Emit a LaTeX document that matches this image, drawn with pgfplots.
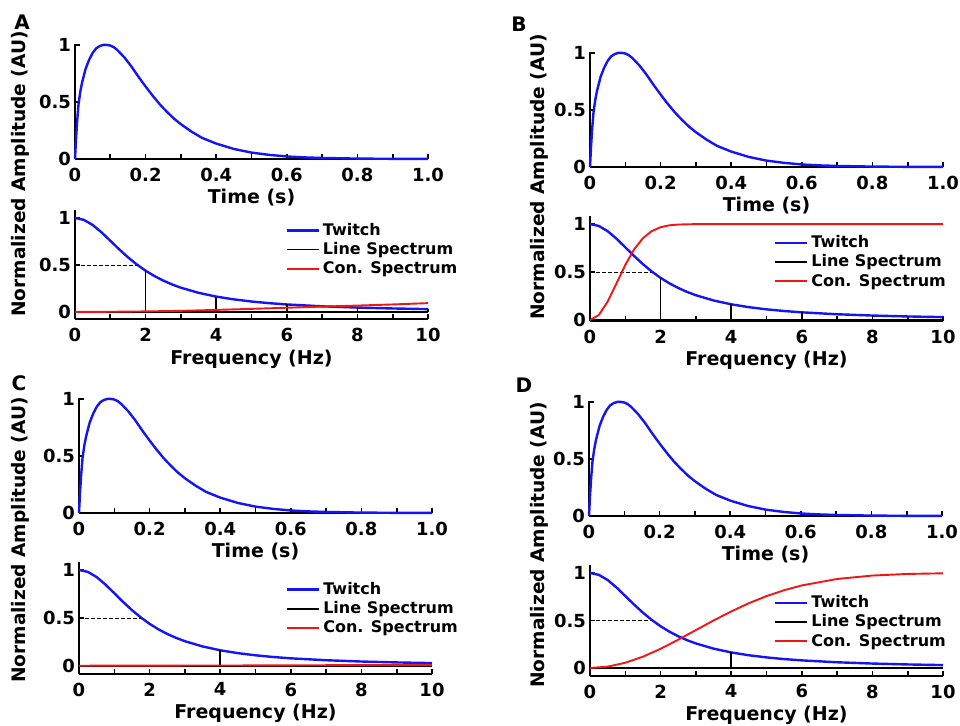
\documentclass[border=0pt]{standalone}
\usepackage{fontspec}
\setmainfont{DejaVu Sans}
\usepackage{pgfplots}
\usepackage{pgfplotstable}
\pgfplotsset{compat=1.18}

\definecolor{twblue}{RGB}{20,20,245}
\definecolor{conred}{RGB}{245,20,20}

% twitch in time (normalized)
\pgfplotstableread{
t y
0 0
0.003 0.18
0.006 0.33
0.01 0.48
0.015 0.59
0.02 0.67
0.03 0.79
0.04 0.87
0.05 0.93
0.06 0.97
0.07 0.99
0.08 1.0
0.09 1.0
0.10 0.995
0.11 0.98
0.12 0.955
0.14 0.89
0.16 0.81
0.18 0.72
0.20 0.635
0.22 0.555
0.24 0.48
0.26 0.415
0.28 0.355
0.30 0.305
0.33 0.24
0.36 0.185
0.40 0.135
0.45 0.088
0.50 0.056
0.55 0.036
0.60 0.022
0.65 0.014
0.70 0.009
0.80 0.0035
0.90 0.0013
1.00 0.0005
}\twitchtime

% twitch amplitude spectrum
\pgfplotstableread{
f y
0 1
0.25 0.9804
0.5 0.9261
0.75 0.8478
1 0.7580
1.25 0.6672
1.5 0.5820
1.75 0.5057
2 0.4392
2.25 0.3823
2.5 0.3339
2.75 0.2929
3 0.2582
3.5 0.2037
4 0.1637
4.5 0.1340
5 0.1114
5.5 0.0938
6 0.0800
7 0.0601
8 0.0467
9 0.0372
10 0.0304
}\twitchspec

% continuous spectra
\pgfplotstableread{
f y
0 0
1 0.002
2 0.006
3 0.012
4 0.022
5 0.033
6 0.045
7 0.057
8 0.068
9 0.080
10 0.094
}\conA

\pgfplotstableread{
f y
0 0
0.25 0.052
0.5 0.192
0.75 0.381
1 0.574
1.25 0.737
1.5 0.853
1.75 0.927
2 0.967
2.25 0.987
2.5 0.995
3 0.9995
4 1
10 1
}\conB

\pgfplotstableread{
f y
0 0.003
5 0.006
10 0.012
}\conC

\pgfplotstableread{
f y
0 0
0.5 0.014
1 0.055
1.5 0.119
2 0.202
2.5 0.298
3 0.399
3.5 0.500
4 0.595
4.5 0.682
5 0.756
5.5 0.819
6 0.869
7 0.937
8 0.973
9 0.990
10 0.9965
}\conD

\pgfplotsset{
  panel/.style={
    scale only axis, width=176.5pt,
    axis x line=bottom, axis y line=left,
    axis line style={-, line width=1pt},
    tick align=inside,
    major tick length=2.5pt, minor tick length=2.5pt,
    every tick/.style={black, line width=0.8pt},
    ticklabel style={font=\fontsize{9}{10}\selectfont\bfseries},
    xticklabel style={yshift=-1pt},
    yticklabel style={xshift=1.5pt},
    xlabel style={font=\fontsize{9.5}{11}\selectfont\bfseries},
    ytick={0,0.5,1}, yticklabels={0,0.5,1},
    clip=false,
  },
  timeax/.style={
    panel, height=57.6pt,
    xmin=0, xmax=1, ymin=0, ymax=1.01,
    xtick={0,0.2,0.4,0.6,0.8,1.0},
    xticklabels={0,0.2,0.4,0.6,0.8,1.0},
    minor xtick={0.1,0.3,0.5,0.7,0.9},
    xlabel={Time (s)},
    xlabel style={yshift=3pt},
  },
  freqax/.style={
    panel, xmin=0, xmax=10, ymax=1.08,
    xtick={0,2,4,6,8,10},
    xticklabels={0,2,4,6,8,10},
    minor xtick={1,3,5,7,9},
    xlabel={Frequency (Hz)},
    xlabel style={yshift=3pt},
    legend style={draw=none, fill=none, inner sep=0pt, row sep=0pt,
      font=\fontsize{8}{9}\selectfont\bfseries,
      nodes={inner xsep=1.5pt, inner ysep=0.6pt, text height=6.6pt, text depth=1.8pt}},
    legend cell align=left,
    legend image code/.code={\draw[##1] (0pt,0pt) -- (16pt,0pt);},
  },
  tw/.style={twblue, line width=1.2pt},
  ls/.style={black, line width=0.85pt},
  cs/.style={conred, line width=0.95pt},
  half/.style={black, line width=0.4pt, dash pattern=on 2pt off 1pt},
}

\begin{document}
\begin{tikzpicture}
\path[use as bounding box] (0,0) rectangle (480pt,363pt);

% ---------- A ----------
\begin{axis}[timeax, at={(37.5pt,283.5pt)}, anchor=south west]
\addplot[tw] table {\twitchtime};
\end{axis}
\begin{axis}[freqax, height=54.5pt, ymin=-0.08, at={(37.5pt,203.25pt)}, anchor=south west,
  legend style={at={(axis cs:5.95,0.975)}, anchor=north west}]
\addplot[tw] table {\twitchspec};
\addlegendentry{Twitch}
\addplot[ls] coordinates {(0,0) (10,0)};
\addlegendentry{Line Spectrum}
\addplot[ls, ycomb, forget plot] coordinates {(2,0.4392) (4,0.1637) (6,0.0800) (8,0.0467) (10,0.0304)};
\addplot[half, forget plot] coordinates {(0,0.5) (1.77,0.5)};
\addplot[cs] table {\conA};
\addlegendentry{Con. Spectrum}
\end{axis}

% ---------- B ----------
\begin{axis}[timeax, at={(295pt,279.5pt)}, anchor=south west]
\addplot[tw] table {\twitchtime};
\end{axis}
\begin{axis}[freqax, height=52.3pt, ymin=-0.01, at={(295pt,202.5pt)}, anchor=south west,
  legend style={at={(axis cs:5.2,0.907)}, anchor=north west}]
\addplot[tw] table {\twitchspec};
\addlegendentry{Twitch}
\addplot[ls] coordinates {(0,0) (10,0)};
\addlegendentry{Line Spectrum}
\addplot[ls, ycomb, forget plot] coordinates {(2,0.4392) (4,0.1637) (6,0.0800) (8,0.0467) (10,0.0304)};
\addplot[half, forget plot] coordinates {(0,0.5) (1.77,0.5)};
\addplot[cs] table {\conB};
\addlegendentry{Con. Spectrum}
\end{axis}

% ---------- C ----------
\begin{axis}[timeax, at={(39.5pt,106.5pt)}, anchor=south west]
\addplot[tw] table {\twitchtime};
\end{axis}
\begin{axis}[freqax, height=55.7pt, ymin=-0.08, at={(39.5pt,26.15pt)}, anchor=south west,
  legend style={at={(axis cs:5.85,0.90)}, anchor=north west}]
\addplot[tw] table {\twitchspec};
\addlegendentry{Twitch}
\addplot[ls] coordinates {(0,0) (10,0)};
\addlegendentry{Line Spectrum}
\addplot[ls, ycomb, forget plot] coordinates {(4,0.1637)};
\addplot[half, forget plot] coordinates {(0,0.5) (1.77,0.5)};
\addplot[cs] table {\conC};
\addlegendentry{Con. Spectrum}
\end{axis}

% ---------- D ----------
\begin{axis}[timeax, at={(294.5pt,105pt)}, anchor=south west]
\addplot[tw] table {\twitchtime};
\end{axis}
\begin{axis}[freqax, height=55.1pt, ymin=-0.08, at={(295pt,25.2pt)}, anchor=south west,
  legend style={at={(axis cs:5.2,0.79)}, anchor=north west}]
\addplot[tw] table {\twitchspec};
\addlegendentry{Twitch}
\addplot[ls] coordinates {(0,0) (10,0)};
\addlegendentry{Line Spectrum}
\addplot[ls, ycomb, forget plot] coordinates {(4,0.1637)};
\addplot[half, forget plot] coordinates {(0,0.5) (1.77,0.5)};
\addplot[cs] table {\conD};
\addlegendentry{Con. Spectrum}
\end{axis}

% panel letters and shared y labels
\begin{scope}[every node/.style={font=\fontsize{10}{12}\selectfont\bfseries, inner sep=0pt}]
\node at (11pt,352pt) {A};
\node at (259.5pt,351pt) {B};
\node at (9.5pt,171.5pt) {C};
\node at (262pt,170.5pt) {D};
\end{scope}
\begin{scope}[every node/.style={font=\fontsize{9.3}{11}\selectfont\bfseries, inner sep=0pt, rotate=90}]
\node at (10pt,276pt) {Normalized Amplitude (AU)};
\node at (269.5pt,274.5pt) {Normalized Amplitude (AU)};
\node at (10pt,93pt) {Normalized Amplitude (AU)};
\node at (269.5pt,90.5pt) {Normalized Amplitude (AU)};
\end{scope}
\end{tikzpicture}
\end{document}
